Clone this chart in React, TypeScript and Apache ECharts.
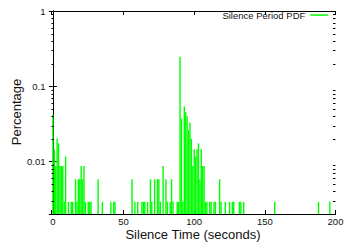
import React, { useEffect, useRef } from 'react';
import * as echarts from 'echarts';

// Silence time bins (seconds) that have a non-zero PDF value
const seconds = [
  0, 1, 2, 3, 4, 5, 6, 7, 8, 9,
  11, 13, 14, 16, 17, 18, 19, 20, 21, 22,
  23, 25, 26, 27, 32, 35, 41, 43, 44,
  56, 58, 60, 63, 64, 65, 67, 69, 70, 72,
  74, 75, 76, 78, 80, 81, 83, 84, 85, 88,
  89, 90, 91, 92, 93, 94, 95, 96, 97, 98,
  99, 100, 101, 102, 103, 104, 105, 106, 107, 108,
  109, 111, 112, 114, 115, 118, 119, 122, 125, 127,
  128, 132, 133, 135, 157, 188, 196,
];

// PDF value (fraction) at each bin above
const pdf = [
  0.042, 0.0145, 0.0087, 0.0203, 0.0174, 0.0087, 0.0087, 0.0087, 0.0029, 0.0116,
  0.0029, 0.0029, 0.0029, 0.0058, 0.0029, 0.0058, 0.0058, 0.0087, 0.0058, 0.0087,
  0.0029, 0.0029, 0.0029, 0.0029, 0.0058, 0.0029, 0.0029, 0.0029, 0.0029,
  0.0058, 0.0029, 0.0029, 0.0029, 0.0029, 0.0029, 0.0029, 0.0058, 0.0029, 0.0058,
  0.0058, 0.0058, 0.0029, 0.0087, 0.0058, 0.0029, 0.0029, 0.0058, 0.0029, 0.0029,
  0.0029, 0.246, 0.037, 0.0029, 0.054, 0.045, 0.04, 0.026, 0.033, 0.02,
  0.0087, 0.0145, 0.0116, 0.0145, 0.0174, 0.0058, 0.0145, 0.0087, 0.0087, 0.0029,
  0.0029, 0.0029, 0.0029, 0.0029, 0.0029, 0.0058, 0.0029, 0.0029, 0.0029, 0.0029,
  0.0029, 0.0029, 0.0029, 0.0029, 0.0029, 0.0029, 0.0029,
];

const xTickLabels = [0, 50, 100, 150, 200];
const yTickLabels = [0.01, 0.1, 1];
const minorTickValues = [
  0.003, 0.004, 0.005, 0.006, 0.007, 0.008, 0.009,
  0.02, 0.03, 0.04, 0.05, 0.06, 0.07, 0.08, 0.09,
  0.2, 0.3, 0.4, 0.5, 0.6, 0.7, 0.8, 0.9,
];
const legendName = 'Silence Period PDF';
const xName = 'Silence Time (seconds)';
const yName = 'Percentage';

const GREEN = '#00ff00';
const FONT = 'Liberation Sans';

function fmtY(v: number): string {
  for (const t of yTickLabels) {
    if (Math.abs(v - t) / t < 1e-6) return String(t);
  }
  return '';
}
function fmtX(v: number): string {
  for (const t of xTickLabels) {
    if (Math.abs(v - t) < 1e-6) return String(t);
  }
  return '';
}

export default function App() {
  const ref = useRef<HTMLDivElement>(null);
  useEffect(() => {
    if (!ref.current) return;
    const chart = echarts.init(ref.current, null, { renderer: 'svg' });
    const axisLine = { show: true, lineStyle: { color: '#000', width: 1 } };
    const tick = { show: true, inside: true, length: 4, lineStyle: { color: '#000', width: 1 } };
    const barData = seconds.map((s, i) => [s, pdf[i]]);
    chart.setOption({
      animation: false,
      backgroundColor: '#fff',
      grid: { left: 51.5, right: 10.5, top: 11, bottom: 30, containLabel: false, outerBoundsMode: 'none' },
      legend: {
        data: [{ name: legendName, icon: 'rect' }],
        right: 17.7,
        top: 10,
        padding: 0,
        align: 'right',
        itemWidth: 18,
        itemHeight: 1.5,
        selectedMode: false,
        textStyle: { fontFamily: FONT, fontSize: 9.5, color: '#111' },
      },
      graphic: [
        {
          type: 'text',
          x: 16.5,
          y: 112,
          rotation: Math.PI / 2,
          style: {
            text: yName,
            fontFamily: FONT,
            fontSize: 13,
            fill: '#111',
            align: 'center',
            verticalAlign: 'middle',
          },
        },
        {
          type: 'text',
          x: 193,
          y: 234,
          style: {
            text: xName,
            fontFamily: FONT,
            fontSize: 13,
            fill: '#111',
            align: 'center',
            verticalAlign: 'middle',
          },
        },
      ],
      xAxis: [
        {
          type: 'value',
          min: -1,
          max: 200,
          position: 'bottom',
          axisLine,
          axisTick: tick,
          splitLine: { show: false },
          axisLabel: {
            formatter: fmtX,
            margin: 2,
            fontFamily: FONT,
            fontSize: 9.5,
            color: '#111',
          },
        },
        {
          type: 'value',
          min: -1,
          max: 200,
          position: 'top',
          axisLine,
          axisTick: tick,
          splitLine: { show: false },
          axisLabel: { show: false },
        },
      ],
      yAxis: [
        {
          type: 'log',
          logBase: 10,
          min: 0.002,
          max: 1,
          position: 'left',
          axisLine,
          axisTick: tick,
          splitLine: { show: false },
          axisLabel: {
            formatter: fmtY,
            margin: 6,
            fontFamily: FONT,
            fontSize: 9.5,
            color: '#111',
          },
        },
        {
          type: 'log',
          logBase: 10,
          min: 0.002,
          max: 1,
          position: 'right',
          axisLine,
          axisTick: tick,
          splitLine: { show: false },
          axisLabel: { show: false },
        },
      ],
      series: [
        {
          name: legendName,
          type: 'custom',
          xAxisIndex: 0,
          yAxisIndex: 0,
          silent: true,
          clip: true,
          itemStyle: { color: GREEN },
          encode: { x: 0, y: 1 },
          data: barData,
          renderItem: (params: any, api: any) => {
            const pt = api.coord([api.value(0), api.value(1)]);
            const cs = params.coordSys;
            const bottom = cs.y + cs.height;
            return {
              type: 'rect',
              shape: { x: pt[0] - 0.7, y: pt[1], width: 1.4, height: bottom - pt[1] },
              style: { fill: GREEN },
            };
          },
        },
        {
          name: 'minorTicks',
          type: 'custom',
          xAxisIndex: 0,
          yAxisIndex: 0,
          silent: true,
          encode: { x: 0, y: 1 },
          data: minorTickValues.map((v) => [0, v]),
          renderItem: (params: any, api: any) => {
            const pt = api.coord([0, api.value(1)]);
            const cs = params.coordSys;
            const y = Math.round(pt[1]) + 0.5;
            return {
              type: 'group',
              children: [
                {
                  type: 'line',
                  shape: { x1: cs.x, y1: y, x2: cs.x + 2.5, y2: y },
                  style: { stroke: '#000', lineWidth: 1 },
                },
                {
                  type: 'line',
                  shape: { x1: cs.x + cs.width - 2.5, y1: y, x2: cs.x + cs.width, y2: y },
                  style: { stroke: '#000', lineWidth: 1 },
                },
              ],
            };
          },
        },
      ],
    });
    return () => chart.dispose();
  }, []);
  return (
    <div
      ref={ref}
      style={{ position: 'absolute', left: 0, top: 0, width: 346, height: 244 }}
    />
  );
}
